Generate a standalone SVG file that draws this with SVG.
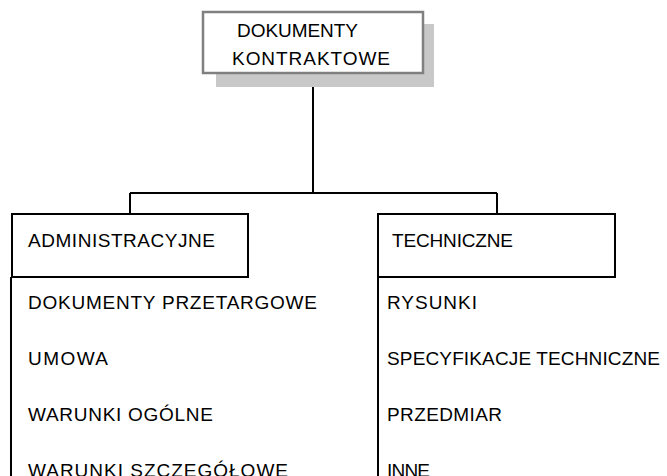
<svg xmlns="http://www.w3.org/2000/svg" width="667" height="476" viewBox="0 0 667 476">
  <style>
    .lbl { font-family: "Liberation Sans", Arial, sans-serif; font-size: 19px; fill: #000; }
    .box { fill: #fff; stroke: #000; stroke-width: 2; }
    .wire { fill: none; stroke: #000; stroke-width: 2; }
  </style>
  <rect width="667" height="476" fill="#fff"/>

  <!-- root document node with drop shadow -->
  <g id="root">
    <rect x="216" y="24" width="218" height="63" fill="#c8c8c8"/>
    <rect x="203" y="12" width="220" height="61" fill="#fff" stroke="#808080" stroke-width="2.5"/>
    <text class="lbl" x="237" y="37" textLength="121" lengthAdjust="spacing">DOKUMENTY</text>
    <text class="lbl" x="232" y="65" textLength="158" lengthAdjust="spacing">KONTRAKTOWE</text>
  </g>

  <!-- tree connectors -->
  <g id="connectors" class="wire">
    <path d="M313 87 V193 M130 193 H497 M130 193 V214 M497 193 V214"/>
    <path d="M11 277 V476"/>
    <path d="M378 277 V476"/>
  </g>

  <!-- administrative branch -->
  <g id="administracyjne">
    <rect class="box" x="12" y="214" width="236" height="63"/>
    <text class="lbl" x="28" y="247" textLength="187" lengthAdjust="spacing">ADMINISTRACYJNE</text>
    <text class="lbl" x="28" y="309" textLength="289" lengthAdjust="spacing">DOKUMENTY PRZETARGOWE</text>
    <text class="lbl" x="28" y="365" textLength="80" lengthAdjust="spacing">UMOWA</text>
    <text class="lbl" x="28" y="421" textLength="185" lengthAdjust="spacing">WARUNKI OGÓLNE</text>
    <text class="lbl" x="28" y="477" textLength="260" lengthAdjust="spacing">WARUNKI SZCZEGÓŁOWE</text>
  </g>

  <!-- technical branch -->
  <g id="techniczne">
    <rect class="box" x="378" y="214" width="237" height="63"/>
    <text class="lbl" x="392" y="247" textLength="121" lengthAdjust="spacing">TECHNICZNE</text>
    <text class="lbl" x="387" y="309" textLength="90" lengthAdjust="spacing">RYSUNKI</text>
    <text class="lbl" x="387" y="365" textLength="273" lengthAdjust="spacing">SPECYFIKACJE TECHNICZNE</text>
    <text class="lbl" x="387" y="421" textLength="115" lengthAdjust="spacing">PRZEDMIAR</text>
    <text class="lbl" x="387" y="477" textLength="43" lengthAdjust="spacing">INNE</text>
  </g>
</svg>
